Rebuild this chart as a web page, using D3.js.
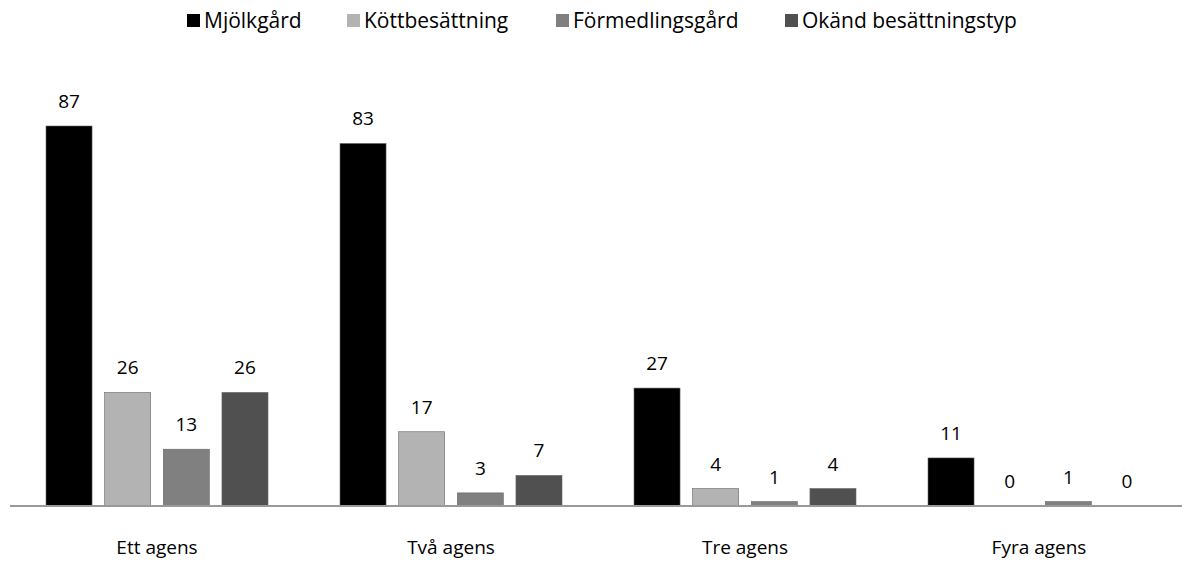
<!DOCTYPE html>
<meta charset="utf-8">
<style>
body { margin: 0; background: #fff; }
text { font-family: "Open Sans", Lato, sans-serif; fill: #000; }
.bar { stroke: #666; stroke-width: 0.6px; }
.axis-line { stroke: #999; stroke-width: 2px; }
</style>
<body>
<script src="https://cdn.jsdelivr.net/npm/d3@7"></script>
<script>
var width = 1182, height = 561;

var categories = ["Ett agens", "Två agens", "Tre agens", "Fyra agens"];
var series = ["Mjölkgård", "Köttbesättning", "Förmedlingsgård", "Okänd besättningstyp"];
var mjolk = [87, 83, 27, 11];
var kott = [26, 17, 4, 0];
var formedling = [13, 3, 1, 1];
var okand = [26, 7, 4, 0];
var colors = ["#000000", "#b3b3b3", "#808080", "#505050"];

var values = [mjolk, kott, formedling, okand];
var baseY = 506;
var fs = 19;

var x0 = d3.scaleBand().domain(categories).range([10, 1186]);
var x1 = d3.scaleBand().domain(series).range([36, 36 + 222]).paddingInner(0.215);
var y = d3.scaleLinear().domain([0, 87]).range([baseY, 126]);

var svg = d3.select("body").append("svg")
    .attr("width", width)
    .attr("height", height);

var groups = svg.selectAll(".group")
    .data(categories)
  .enter().append("g")
    .attr("class", "group")
    .attr("transform", function(d) { return "translate(" + x0(d) + ",0)"; });

groups.each(function(cat, ci) {
  var g = d3.select(this);
  series.forEach(function(s, si) {
    var v = values[si][ci];
    if (v > 0) {
      g.append("rect")
          .attr("class", "bar")
          .attr("x", x1(s))
          .attr("y", y(v))
          .attr("width", x1.bandwidth())
          .attr("height", baseY - y(v))
          .attr("fill", colors[si]);
    }
    g.append("text")
        .attr("x", x1(s) + x1.bandwidth() / 2)
        .attr("y", y(v) - 18)
        .attr("text-anchor", "middle")
        .attr("font-size", fs)
        .text(v);
  });
  g.append("text")
      .attr("x", x0.bandwidth() / 2)
      .attr("y", 554)
      .attr("text-anchor", "middle")
      .attr("font-size", fs)
      .text(cat);
});

svg.append("line")
    .attr("class", "axis-line")
    .attr("x1", 10).attr("x2", width)
    .attr("y1", baseY).attr("y2", baseY);

// legend
var legendX = [187, 347, 556, 785];
var legend = svg.selectAll(".legend")
    .data(series)
  .enter().append("g")
    .attr("class", "legend")
    .attr("transform", function(d, i) { return "translate(" + legendX[i] + ",14)"; });
legend.append("rect")
    .attr("width", 13).attr("height", 13)
    .attr("fill", function(d, i) { return colors[i]; });
legend.append("text")
    .attr("x", 17).attr("y", 13.5)
    .attr("font-size", 21)
    .text(function(d) { return d; });
</script>
